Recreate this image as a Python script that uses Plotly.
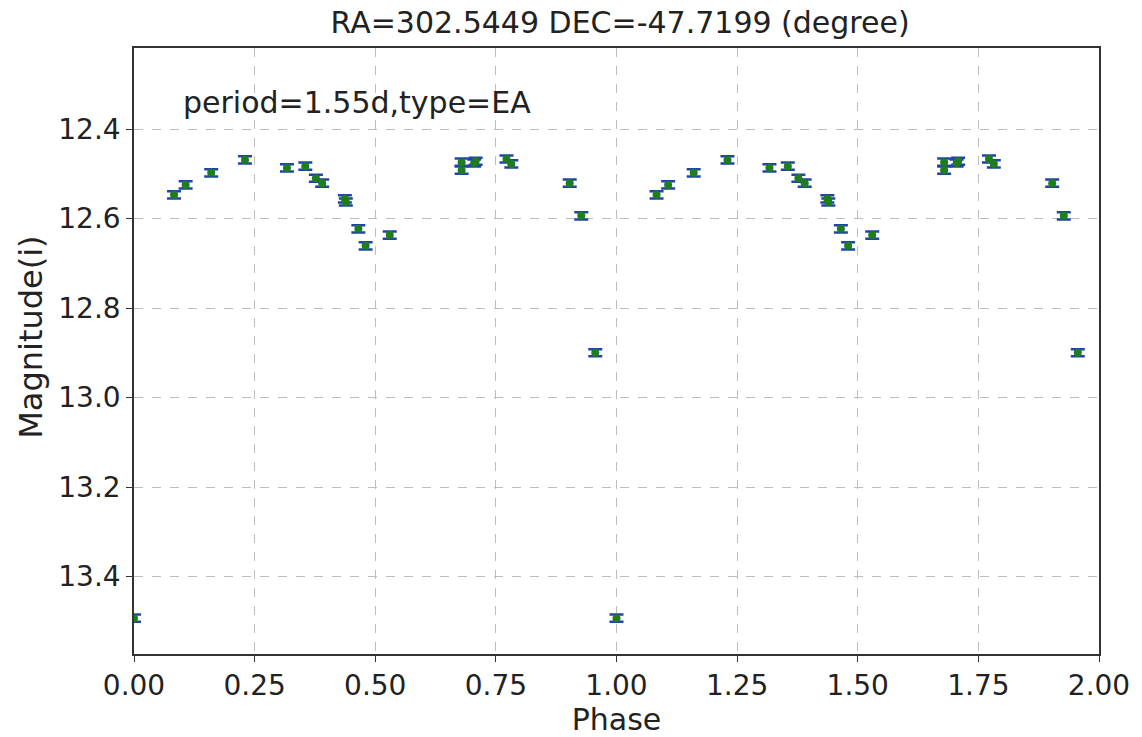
import plotly.graph_objects as go
import numpy as np

# Folded light curve data (phase 0-1)
phase = [0.000, 0.083, 0.107, 0.160, 0.230, 0.317, 0.355, 0.377, 0.390,
         0.437, 0.439, 0.465, 0.480, 0.530, 0.679, 0.679, 0.705, 0.708,
         0.772, 0.782, 0.903, 0.927, 0.956]
mag = [13.493, 12.547, 12.525, 12.498, 12.469, 12.487, 12.483, 12.510, 12.521,
       12.556, 12.563, 12.623, 12.661, 12.637, 12.474, 12.492, 12.476, 12.472,
       12.467, 12.478, 12.521, 12.594, 12.900]
mag_err = [0.008] * len(phase)

x_ticks = [0.0, 0.25, 0.5, 0.75, 1.0, 1.25, 1.5, 1.75, 2.0]
y_ticks = [12.4, 12.6, 12.8, 13.0, 13.2, 13.4]

ph = np.array(phase)
x_all = np.concatenate([ph, ph + 1.0])
y_all = np.concatenate([mag, mag])
e_all = np.concatenate([mag_err, mag_err])

FONT = "DejaVu Sans, sans-serif"
TXT = "#222222"

fig = go.Figure()
fig.add_trace(go.Scatter(
    x=x_all, y=y_all, mode="markers",
    marker=dict(color="#1e7d1e", size=8, line=dict(width=0)),
    error_y=dict(type="data", array=e_all, visible=True, color="#1f45a8",
                 thickness=2.5, width=7),
    showlegend=False, cliponaxis=True,
))

fig.add_annotation(x=0.097, y=12.34, xref="x", yref="y", text="period=1.55d,type=EA",
                   showarrow=False, xanchor="left", yanchor="middle",
                   font=dict(family=FONT, size=30, color=TXT))

# y-axis label placed as rotated annotation (paper coords)
fig.add_annotation(x=-0.107, y=0.523, xref="paper", yref="paper", text="Magnitude(i)",
                   showarrow=False, textangle=-90, xanchor="center", yanchor="middle",
                   font=dict(family=FONT, size=32, color=TXT))

axis_common = dict(
    showline=True, linecolor="#333333", linewidth=1.5, mirror=True,
    ticks="outside", ticklen=6, tickwidth=1.3, tickcolor="#333333",
    showgrid=True, gridcolor="#bdbdbd", griddash="dash", gridwidth=1,
    zeroline=False, tickfont=dict(family=FONT, size=28, color=TXT),
)

fig.update_layout(
    width=1142, height=737,
    margin=dict(l=134, r=40, t=48, b=83),
    paper_bgcolor="white", plot_bgcolor="white",
    title=dict(text="RA=302.5449 DEC=-47.7199 (degree)", x=0.543, xanchor="center",
               y=0.97, yanchor="middle", font=dict(family=FONT, size=30, color=TXT)),
    xaxis=dict(range=[0, 2], tickvals=x_ticks, tickformat=".2f",
               title=dict(text="Phase", font=dict(family=FONT, size=30, color=TXT), standoff=0),
               **axis_common),
    yaxis=dict(range=[13.573, 12.219], tickvals=y_ticks, tickformat=".1f",
               **axis_common),
)

fig.write_html("out.html")
